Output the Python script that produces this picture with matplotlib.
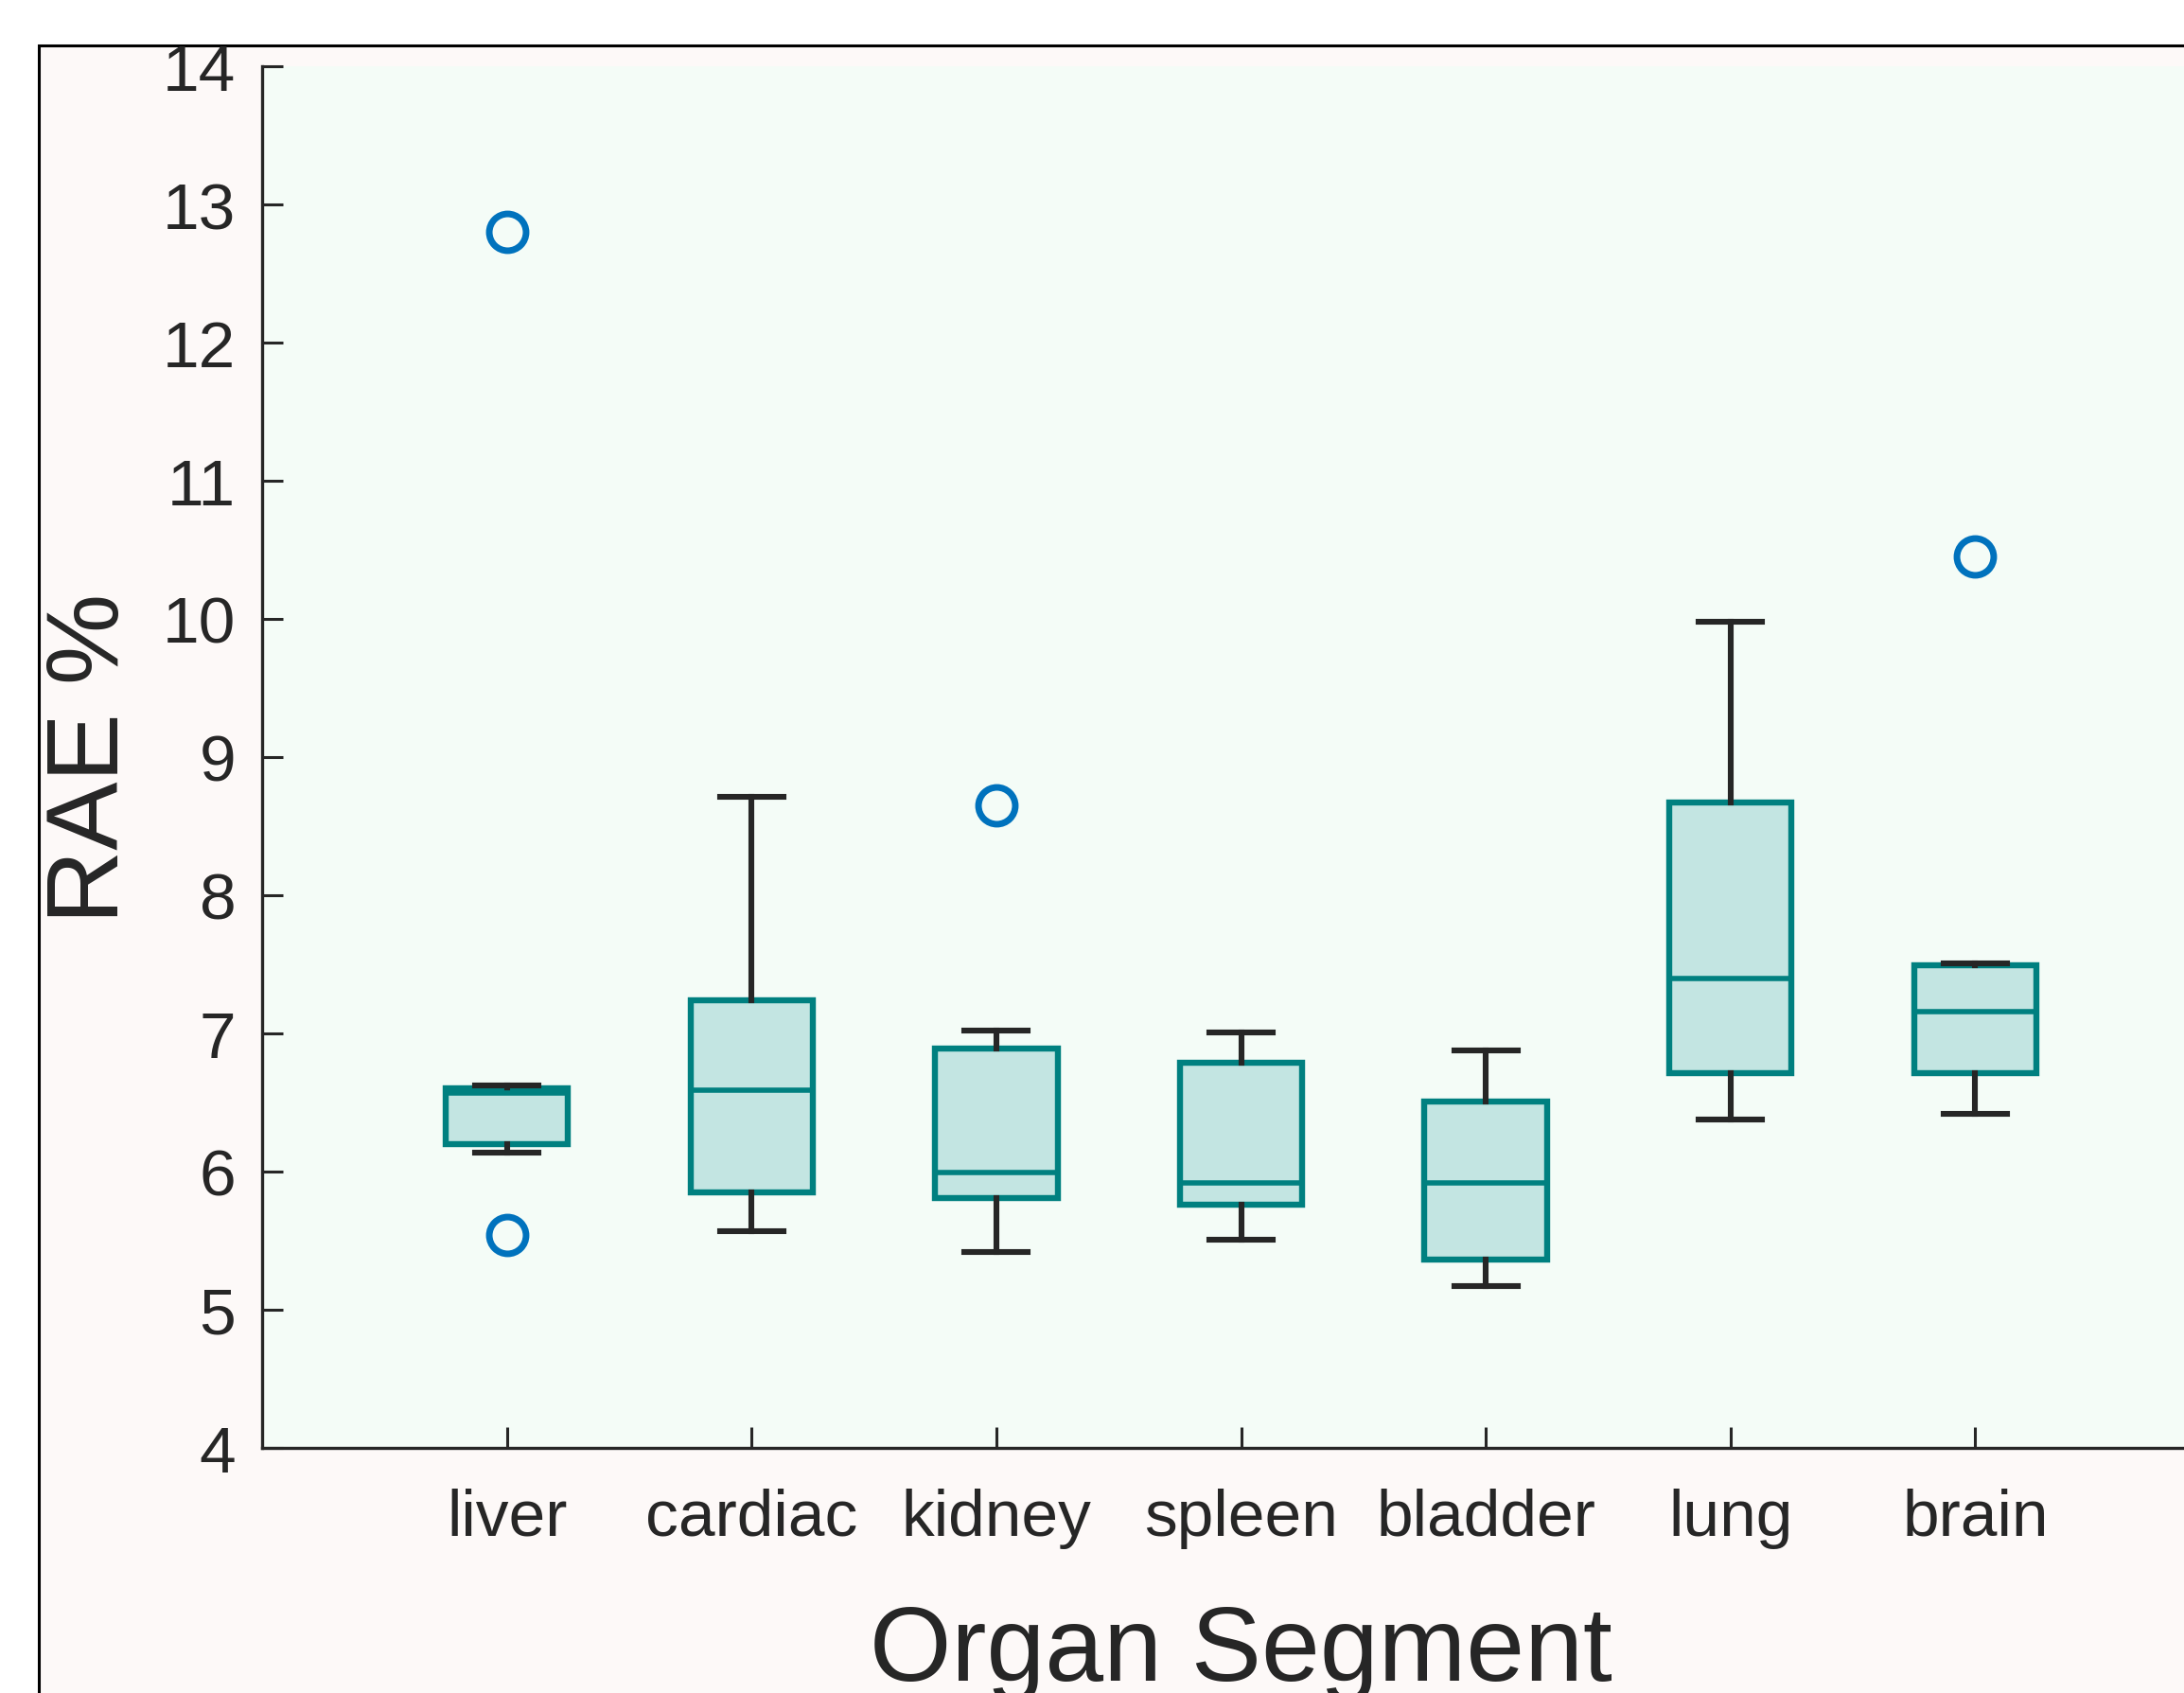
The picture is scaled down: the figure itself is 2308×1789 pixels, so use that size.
import matplotlib
matplotlib.use("Agg")
import matplotlib.pyplot as plt
from matplotlib.patches import Rectangle

plt.rcParams['font.family'] = ['Liberation Sans', 'DejaVu Sans']

# box statistics (RAE %)
organs = ['liver', 'cardiac', 'kidney', 'spleen', 'bladder', 'lung', 'brain']
q1 = [6.20, 5.85, 5.81, 5.76, 5.36, 6.71, 6.71]
med = [6.57, 6.59, 5.99, 5.92, 5.92, 7.40, 7.16]
q3 = [6.60, 7.24, 6.89, 6.79, 6.51, 8.67, 7.49]
whislo = [6.14, 5.57, 5.42, 5.51, 5.17, 6.38, 6.42]
whishi = [6.62, 8.71, 7.02, 7.01, 6.88, 9.98, 7.51]
outliers = [[12.80, 5.54], [], [8.65], [], [], [], [10.45]]
y_ticks = [4, 5, 6, 7, 8, 9, 10, 11, 12, 13, 14]

TEAL = '#008080'
FILL = '#C3E5E2'
DARK = '#262626'
BLUE = '#0072BD'

fig = plt.figure(figsize=(23.08, 17.90), dpi=100, facecolor='white')

# the figure window frame, cut off at the right and bottom
fig.patches.append(Rectangle((41 / 2308, -0.5), 2.0, 0.5 + (1790 - 49) / 1790,
                             transform=fig.transFigure, facecolor='#FDF9F8',
                             edgecolor='black', linewidth=2.2, zorder=-10))

ax = fig.add_axes([277 / 2308, 259 / 1790, 2069 / 2308, 1460 / 1790])
ax.set_facecolor('#F4FCF7')

stats = []
for i in range(len(organs)):
    stats.append(dict(label=organs[i], med=med[i], q1=q1[i], q3=q3[i],
                      whislo=whislo[i], whishi=whishi[i], fliers=outliers[i]))

ax.bxp(stats, positions=range(1, len(organs) + 1), widths=0.5, capwidths=0.26,
       patch_artist=True,
       boxprops=dict(facecolor=FILL, edgecolor=TEAL, linewidth=4.6),
       medianprops=dict(color=TEAL, linewidth=4.0),
       whiskerprops=dict(color=DARK, linewidth=4.4),
       capprops=dict(color=DARK, linewidth=4.4),
       flierprops=dict(marker='o', markerfacecolor='none', markeredgecolor=BLUE,
                       markersize=28, markeredgewidth=5, linestyle='none'))

ax.set_xlim(0, 8)
ax.set_ylim(4, 14)
ax.set_yticks(y_ticks)
ax.set_xticks(range(1, len(organs) + 1))
ax.set_xticklabels(organs)

for s in ['top', 'right']:
    ax.spines[s].set_visible(False)
for s in ['left', 'bottom']:
    ax.spines[s].set_color(DARK)
    ax.spines[s].set_linewidth(2.4)

ax.tick_params(axis='y', direction='in', length=16, width=2.2, color=DARK,
               labelsize=50, labelcolor=DARK, pad=20)
ax.tick_params(axis='x', direction='in', length=16, width=2.2, color=DARK,
               labelsize=50, labelcolor=DARK, pad=30)

ax.set_ylabel('RAE %', fontsize=78, color=DARK, labelpad=18)
ax.set_xlabel('Organ Segment', fontsize=80, color=DARK, labelpad=42)

fig.savefig('out.png', dpi=100, facecolor=fig.get_facecolor())
